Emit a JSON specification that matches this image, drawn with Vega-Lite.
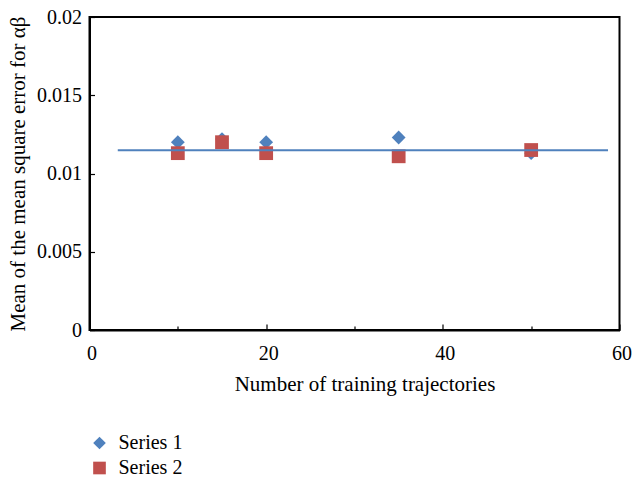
{
  "$schema": "https://vega.github.io/schema/vega-lite/v6.json",
  "width": 530,
  "height": 313,
  "autosize": "none",
  "padding": {"left": 89.5, "top": 17, "right": 12.5, "bottom": 149},
  "background": "white",
  "config": {
    "font": "Liberation Serif",
    "view": {"stroke": "black", "strokeWidth": 2},
    "axis": {
      "grid": false,
      "domainColor": "black",
      "domainWidth": 2,
      "tickColor": "black",
      "tickWidth": 1.2,
      "labelFont": "Liberation Serif",
      "labelFontSize": 20,
      "labelColor": "black",
      "labelFlush": false,
      "titleFont": "Liberation Serif",
      "titleFontSize": 21,
      "titleFontWeight": "normal",
      "titleColor": "black"
    },
    "legend": {
      "labelFont": "Liberation Serif",
      "labelFontSize": 20,
      "labelColor": "black"
    }
  },
  "datasets": {
    "points": [
      {"trajectories": 10, "mse": 0.0120, "series": "Series 1"},
      {"trajectories": 15, "mse": 0.0122, "series": "Series 1"},
      {"trajectories": 20, "mse": 0.0120, "series": "Series 1"},
      {"trajectories": 35, "mse": 0.0123, "series": "Series 1"},
      {"trajectories": 50, "mse": 0.0113, "series": "Series 1"},
      {"trajectories": 10, "mse": 0.0113, "series": "Series 2"},
      {"trajectories": 15, "mse": 0.0120, "series": "Series 2"},
      {"trajectories": 20, "mse": 0.0113, "series": "Series 2"},
      {"trajectories": 35, "mse": 0.0111, "series": "Series 2"},
      {"trajectories": 50, "mse": 0.0115, "series": "Series 2"}
    ],
    "trend": [
      {"trajectories": 3.2, "mse": 0.01148},
      {"trajectories": 58.7, "mse": 0.01148}
    ]
  },
  "layer": [
    {
      "data": {"name": "points"},
      "mark": {"type": "point", "filled": true, "size": 190, "opacity": 1},
      "encoding": {
        "x": {
          "field": "trajectories",
          "type": "quantitative",
          "scale": {"domain": [0, 60], "nice": false},
          "axis": {
            "title": "Number of training trajectories",
            "values": [0, 10, 20, 30, 40, 50, 60],
            "labelExpr": "datum.value % 20 == 0 ? datum.label : ''",
            "tickSize": {"condition": {"test": "datum.value % 20 == 0", "value": -6}, "value": -4},
            "labelPadding": 19,
            "labelOffset": 2,
            "titlePadding": 10,
            "titleX": 275
          }
        },
        "y": {
          "field": "mse",
          "type": "quantitative",
          "scale": {"domain": [0, 0.02], "nice": false},
          "axis": {
            "title": "Mean of the mean square error for αβ",
            "values": [0, 0.005, 0.01, 0.015, 0.02],
            "format": "~g",
            "tickSize": -5,
            "labelPadding": 13,
            "titlePadding": 8
          }
        },
        "color": {
          "field": "series",
          "type": "nominal",
          "scale": {"domain": ["Series 1", "Series 2"], "range": ["#4F81BD", "#C0504D"]},
          "legend": {
            "title": null,
            "orient": "none",
            "legendX": 0,
            "legendY": 416,
            "symbolSize": 160,
            "rowPadding": 5,
            "labelOffset": 9
          }
        },
        "shape": {
          "field": "series",
          "type": "nominal",
          "scale": {"domain": ["Series 1", "Series 2"], "range": ["diamond", "square"]}
        }
      }
    },
    {
      "data": {"name": "trend"},
      "mark": {"type": "line", "color": "#4F81BD", "strokeWidth": 2},
      "encoding": {
        "x": {"field": "trajectories", "type": "quantitative"},
        "y": {"field": "mse", "type": "quantitative"}
      }
    }
  ]
}
